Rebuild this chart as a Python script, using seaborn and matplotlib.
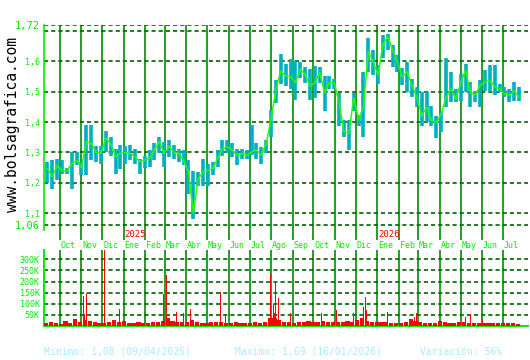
import numpy as np
import pandas as pd
import matplotlib
matplotlib.use("Agg")
import matplotlib.pyplot as plt
import matplotlib.transforms as mtransforms
import seaborn as sns

# ---------------- data (weekly) ----------------
week_start = "2024-09-13"
close = [1.247, 1.22, 1.258, 1.24, 1.24, 1.263, 1.274, 1.25, 1.336, 1.33,
         1.30, 1.297, 1.347, 1.33, 1.286, 1.297, 1.30, 1.297, 1.286, 1.27,
         1.275, 1.28, 1.308, 1.336, 1.297, 1.32, 1.30, 1.297, 1.274, 1.236,
         1.10, 1.213, 1.236, 1.241, 1.247, 1.28, 1.313, 1.319, 1.308, 1.291,
         1.297, 1.291, 1.302, 1.308, 1.291, 1.33, 1.41, 1.508, 1.569, 1.552,
         1.552, 1.53, 1.574, 1.558, 1.519, 1.53, 1.563, 1.497, 1.53, 1.53,
         1.463, 1.369, 1.363, 1.48, 1.408, 1.45, 1.632, 1.60, 1.555, 1.654,
         1.682, 1.638, 1.60, 1.549, 1.566, 1.521, 1.482, 1.421, 1.449, 1.404,
         1.399, 1.427, 1.482, 1.51, 1.477, 1.527, 1.571, 1.499, 1.488, 1.521,
         1.532, 1.538, 1.516, 1.51, 1.493, 1.488, 1.504, 1.482]
high = [1.27, 1.275, 1.28, 1.275, 1.25, 1.30, 1.30, 1.27, 1.39, 1.39,
        1.32, 1.32, 1.37, 1.35, 1.313, 1.325, 1.32, 1.325, 1.313, 1.28,
        1.29, 1.308, 1.33, 1.35, 1.336, 1.341, 1.324, 1.313, 1.308, 1.274,
        1.24, 1.236, 1.28, 1.263, 1.27, 1.308, 1.34, 1.34, 1.33, 1.313,
        1.313, 1.308, 1.39, 1.33, 1.319, 1.341, 1.44, 1.54, 1.624, 1.591,
        1.608, 1.602, 1.597, 1.58, 1.574, 1.585, 1.58, 1.552, 1.552, 1.541,
        1.497, 1.408, 1.408, 1.497, 1.425, 1.564, 1.677, 1.638, 1.588, 1.688,
        1.69, 1.655, 1.621, 1.577, 1.599, 1.543, 1.516, 1.499, 1.499, 1.454,
        1.421, 1.432, 1.61, 1.566, 1.51, 1.56, 1.593, 1.532, 1.504, 1.538,
        1.571, 1.588, 1.588, 1.527, 1.516, 1.51, 1.532, 1.516]
low = [1.20, 1.18, 1.21, 1.23, 1.23, 1.18, 1.26, 1.225, 1.225, 1.275,
       1.27, 1.263, 1.30, 1.29, 1.23, 1.247, 1.263, 1.275, 1.263, 1.23,
       1.25, 1.252, 1.275, 1.297, 1.252, 1.286, 1.28, 1.27, 1.258, 1.163,
       1.08, 1.19, 1.19, 1.19, 1.225, 1.252, 1.29, 1.297, 1.286, 1.258,
       1.28, 1.28, 1.291, 1.28, 1.263, 1.297, 1.352, 1.463, 1.524, 1.519,
       1.508, 1.474, 1.546, 1.53, 1.474, 1.48, 1.53, 1.436, 1.508, 1.508,
       1.386, 1.352, 1.308, 1.436, 1.386, 1.35, 1.566, 1.555, 1.527, 1.61,
       1.638, 1.582, 1.566, 1.521, 1.499, 1.482, 1.449, 1.388, 1.399, 1.388,
       1.349, 1.366, 1.449, 1.466, 1.466, 1.471, 1.499, 1.449, 1.466, 1.449,
       1.504, 1.499, 1.488, 1.499, 1.482, 1.466, 1.471, 1.471]

base_volume = [12, 16, 13, 10, 24, 12, 32, 16, 28, 24, 16, 12, 14, 20, 28, 16,
               24, 13, 12, 16, 12, 12, 16, 20, 24, 34, 24, 20, 16, 20, 28, 16,
               12, 12, 16, 16, 20, 12, 14, 16, 12, 12, 12, 16, 14, 20, 36, 38,
               28, 20, 16, 14, 20, 16, 24, 20, 16, 24, 20, 16, 16, 20, 24, 16,
               28, 38, 24, 20, 16, 20, 16, 14, 12, 14, 16, 30, 24, 16, 14, 12,
               12, 24, 16, 14, 12, 16, 20, 14, 12, 12, 12, 14, 12, 12, 12, 14, 12, 10]
base_volume = [v * 1000 for v in base_volume]

spike_dates = ["2024-11-04", "2024-11-05", "2024-11-08", "2024-12-04", "2024-12-26",
               "2025-02-27", "2025-03-03", "2025-03-18", "2025-03-28", "2025-04-07",
               "2025-05-20", "2025-05-28", "2025-07-31", "2025-08-04", "2025-08-06",
               "2025-08-08", "2025-08-12", "2025-08-29", "2025-09-26", "2025-10-13",
               "2025-11-03", "2025-11-28", "2025-12-12", "2025-12-15", "2025-12-17",
               "2026-01-16", "2026-02-24", "2026-02-26", "2026-04-07", "2026-05-08",
               "2026-05-15", "2026-06-01"]
spike_volume = [133, 55, 150, 345, 76, 143, 228, 65, 60, 76,
                153, 55, 234, 100, 60, 203, 125, 60, 92, 60,
                70, 60, 85, 130, 70, 65, 40, 60, 70, 40,
                52, 30]
spike_volume = [v * 1000 for v in spike_volume]

month_labels = ["Oct", "Nov", "Dic", "Ene", "Feb", "Mar", "Abr", "May", "Jun", "Jul", "Ago",
                "Sep", "Oct", "Nov", "Dic", "Ene", "Feb", "Mar", "Abr", "May", "Jun", "Jul"]
year_labels = ["2025", "2026"]
year_dates = ["2025-01-01", "2026-01-01"]
price_ticks = [1.06, 1.1, 1.2, 1.3, 1.4, 1.5, 1.6, 1.7, 1.72]
price_tick_labels = ["1,06", "1,1", "1,2", "1,3", "1,4", "1,5", "1,6", "", "1,72"]
vol_ticks = [50000, 100000, 150000, 200000, 250000, 300000]
vol_tick_labels = ["50K", "100K", "150K", "200K", "250K", "300K"]
footer = ["Minimo: 1,08 (09/04/2025)", "Maximo: 1,69 (16/01/2026)", "Variación: 56%"]

# ---------------- styling ----------------
LIME = "#00ee00"
CYAN = "#00b0c0"
CLOSE = "#22ff00"
HGRID = "#006400"
VGRID = "#008c00"
FOOT = "#a8ecff"

sns.set_style("white")
plt.rcParams["font.family"] = ["DejaVu Sans Mono", "DejaVu Sans"]

dates = pd.date_range(week_start, periods=len(close), freq="W-FRI")
df = pd.DataFrame({"date": dates, "close": close, "high": high, "low": low})
month_starts = pd.date_range("2024-10-01", periods=len(month_labels), freq="MS")
xlim = (pd.Timestamp("2024-09-08"), pd.Timestamp("2026-08-06"))

fig = plt.figure(figsize=(5.3, 3.6), dpi=100)
ax = fig.add_axes([44 / 530, 120 / 360, 484 / 530, 215 / 360])
axv = fig.add_axes([44 / 530, 34 / 360, 484 / 530, 76 / 360])

dash = (0, (2.5, 1.8))

# price panel
ax.vlines(df["date"], df["low"], df["high"], color=CYAN, lw=2.6, zorder=3)
sns.lineplot(data=df, x="date", y="close", color=CLOSE, lw=1.1, ax=ax, zorder=4)
ax.set_xlim(*xlim)
ax.set_ylim(1.0116, 1.72)
ax.set_yticks(price_ticks)
ax.set_yticklabels(price_tick_labels)
for lab, v in zip(ax.get_yticklabels(), price_ticks):
    lab.set_fontsize(7.5 if v in (1.06, 1.72) else 6)
    lab.set_color(LIME)
ax.set_xticks(month_starts)
ax.set_xticklabels([])
ax.tick_params(length=0, pad=3)
ax.set_xlabel("")
ax.set_ylabel("")
ax.yaxis.grid(True, color=HGRID, ls=dash, lw=1.2)
ax.xaxis.grid(True, color=VGRID, lw=1.2, ls="-")
ax.set_axisbelow(True)
for s in ["top", "right", "bottom"]:
    ax.spines[s].set_visible(False)
ax.spines["left"].set_color(LIME)
ax.spines["left"].set_linewidth(1.2)
ax.spines["left"].set_bounds(1.045, 1.72)

trans = mtransforms.blended_transform_factory(ax.transData, ax.transAxes)
for d, lab in zip(month_starts, month_labels):
    ax.text(d + pd.Timedelta(days=1), -0.005, lab, transform=trans, ha="left", va="top",
            fontsize=6, color=LIME, clip_on=False)
for d, lab in zip(year_dates, year_labels):
    ax.text(pd.Timestamp(d) + pd.Timedelta(days=1), 0.005, lab, transform=trans, ha="left",
            va="bottom", fontsize=6.5, color="#ff0000")

# volume panel
vol_dates = dates - pd.Timedelta(days=2)
axv.bar(vol_dates, base_volume, width=6, color="#ff0000", linewidth=0, zorder=3)
axv.bar(pd.to_datetime(spike_dates), spike_volume, width=1.3, color="#ff0000", linewidth=0, zorder=3)
axv.set_xlim(*xlim)
axv.set_ylim(0, 342000)
axv.set_yticks(vol_ticks)
axv.set_yticklabels(vol_tick_labels, fontsize=6, color=LIME)
axv.set_xticks(month_starts)
axv.set_xticklabels([])
axv.tick_params(length=0, pad=3)
axv.yaxis.grid(True, color=HGRID, ls=dash, lw=1.2)
axv.xaxis.grid(True, color=VGRID, lw=1.2, ls="-")
axv.set_axisbelow(True)
for s in ["top", "right"]:
    axv.spines[s].set_visible(False)
for s in ["left", "bottom"]:
    axv.spines[s].set_color(LIME)
    axv.spines[s].set_linewidth(1.4)

# watermark and footer
fig.text(13 / 530, (360 - 124) / 360, "www.bolsagrafica.com", rotation=90,
         ha="center", va="center", fontsize=10.5, color="black")
for x, t in zip([44, 235, 420], footer):
    fig.text(x / 530, (360 - 352) / 360, t, ha="left", va="center", fontsize=7, color=FOOT)

fig.savefig("out.png", dpi=100)
